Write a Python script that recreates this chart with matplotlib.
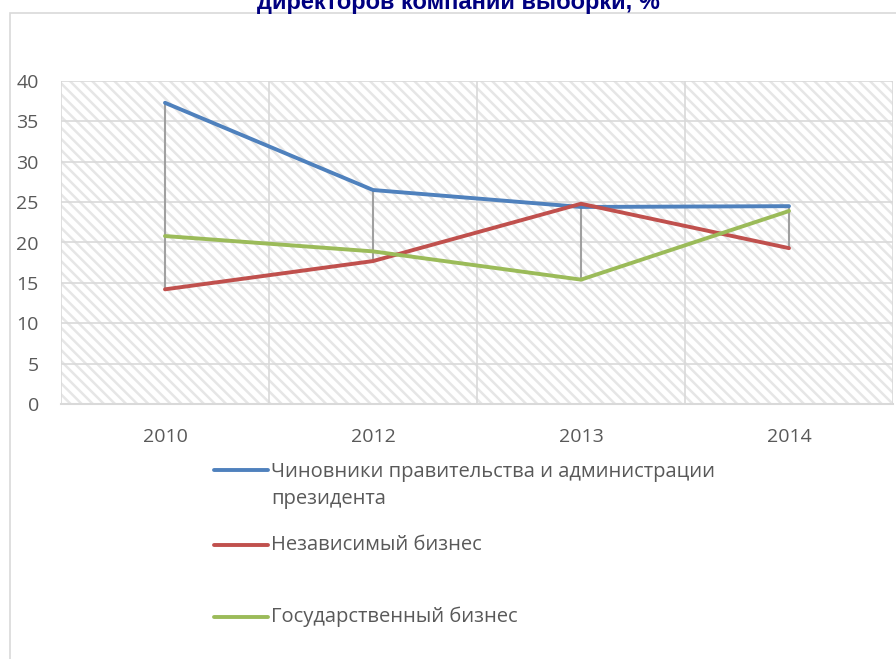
import matplotlib.pyplot as plt
from matplotlib.lines import Line2D
from matplotlib.patches import Rectangle
import numpy as np

years = ["2010", "2012", "2013", "2014"]
officials = [37.3, 26.5, 24.4, 24.5]
independent = [14.2, 17.7, 24.8, 19.3]
state = [20.8, 18.9, 15.4, 23.9]

labels = ["Чиновники правительства и администрации\nпрезидента",
          "Независимый бизнес",
          "Государственный бизнес"]
colors = ["#4f81bd", "#c0504d", "#9bbb59"]
series = [officials, independent, state]

plt.rcParams["font.family"] = ["Open Sans", "DejaVu Sans"]
plt.rcParams["hatch.linewidth"] = 1.8
plt.rcParams["hatch.color"] = "#e6e6e6"

W, H = 896, 659
fig = plt.figure(figsize=(W / 100, H / 100), dpi=100)

# chart frame (extends off the picture on right and bottom)
fig.add_artist(Rectangle((10 / W, -0.05), 1.0, (H - 13) / H + 0.05,
                         transform=fig.transFigure, fill=False,
                         edgecolor="#d9d9d9", linewidth=1.2))

# title, cropped at the top like in the source
fig.text(458 / W, (H - 9) / H, "директоров компаний выборки, %",
         ha="center", va="baseline", fontsize=17, fontweight="bold",
         color="#000080", family="Liberation Sans")

ax = fig.add_axes([61 / W, (H - 404) / H, (893 - 61) / W, (404 - 81) / H])
ax.patch.set_facecolor("white")
ax.patch.set_hatch("\\\\\\")
ax.patch.set_edgecolor("#e6e6e6")

x = np.arange(len(years))
data = np.array(series)

# high-low lines
ax.vlines(x, data.min(axis=0), data.max(axis=0), color="#a0a0a0", lw=1.5, zorder=3)

for vals, c in zip(series, colors):
    ax.plot(x, vals, color=c, lw=2.8, solid_capstyle="round", zorder=4)

ax.set_xlim(-0.5, 3.5)
ax.set_ylim(0, 40)
ax.set_yticks(range(0, 41, 5))
ax.set_xticks(x)
ax.set_xticklabels(years)
ax.set_xticks(np.arange(-0.5, 4, 1), minor=True)

ax.grid(axis="y", which="major", color="#d9d9d9", lw=1.2, zorder=1)
ax.grid(axis="x", which="minor", color="#d9d9d9", lw=1.2, zorder=1)
ax.set_axisbelow(True)
for s in ["top", "right", "left"]:
    ax.spines[s].set_visible(False)
ax.spines["bottom"].set_color("#d9d9d9")
ax.spines["bottom"].set_linewidth(1.5)
ax.tick_params(which="both", length=0, labelsize=14, colors="#595959")
ax.tick_params(axis="y", pad=16)
ax.tick_params(axis="x", pad=17)

# legend drawn below the plot area
legend_y = [470, 545, 617]
for lab, c, yy in zip(labels, colors, legend_y):
    fig.add_artist(Line2D([214 / W, 268 / W], [(H - yy) / H] * 2,
                          transform=fig.transFigure, color=c, lw=2.8,
                          solid_capstyle="round"))
    if "\n" in lab:
        fig.text(271 / W, (H - yy + 8) / H, lab, ha="left", va="top",
                 fontsize=14.5, color="#595959", linespacing=1.45)
    else:
        fig.text(271 / W, (H - yy) / H, lab, ha="left", va="center",
                 fontsize=14.5, color="#595959")

fig.savefig("out.png", dpi=100)
